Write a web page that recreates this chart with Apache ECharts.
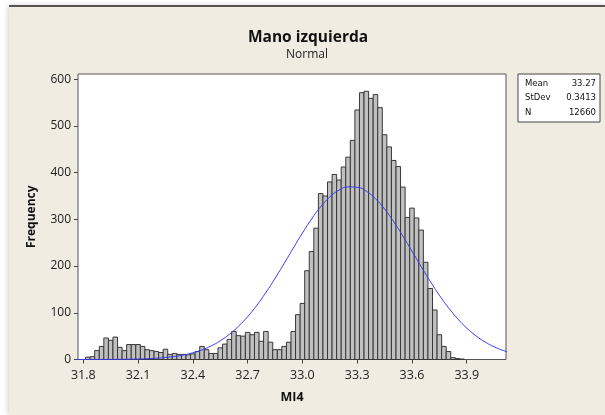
<!DOCTYPE html>
<html>
<head>
<meta charset="utf-8">
<script src="https://cdn.jsdelivr.net/npm/echarts@6/dist/echarts.min.js"></script>
<style>
html,body{margin:0;padding:0;background:#ffffff;}
#chart{width:605px;height:415px;}
</style>
</head>
<body>
<div id="chart"></div>
<script>
// ---- data ----
const binWidth = 0.025;
const binCenters = [
 31.825,31.85,31.875,31.9,31.925,31.95,31.975,32.0,32.025,32.05,32.075,32.1,32.125,32.15,32.175,32.2,32.225,32.25,
 32.275,32.3,32.325,32.35,32.375,32.4,32.425,32.45,32.475,32.5,32.525,32.55,32.575,32.6,32.625,32.65,32.675,32.7,
 32.725,32.75,32.775,32.8,32.825,32.85,32.875,32.9,32.925,32.95,32.975,33.0,33.025,33.05,33.075,33.1,33.125,33.15,
 33.175,33.2,33.225,33.25,33.275,33.3,33.325,33.35,33.375,33.4,33.425,33.45,33.475,33.5,33.525,33.55,33.575,33.6,
 33.625,33.65,33.675,33.7,33.725,33.75,33.775,33.8,33.825,33.85,33.875
];
const frequencies = [
 5,6,19,28,46,41,48,26,19,32,32,32,28,21,19,17,15,22,
 11,13,11,11,10,12,17,28,21,13,13,25,33,43,60,51,50,58,
 53,58,39,60,37,21,21,28,37,60,96,120,190,231,281,355,350,380,
 396,384,412,433,469,534,571,574,559,567,539,481,455,426,413,369,304,324,
 303,277,208,152,106,53,28,17,4,2,1
];
// fitted normal curve
const curveX = [
 31.75,31.8,31.85,31.9,31.95,32.0,32.05,32.1,32.15,32.2,32.25,32.3,32.35,32.4,32.45,32.5,32.55,32.6,32.65,32.7,
 32.75,32.8,32.85,32.9,32.95,33.0,33.05,33.1,33.15,33.2,33.25,33.3,33.35,33.4,33.45,33.5,33.55,33.6,33.65,33.7,
 33.75,33.8,33.85,33.9,33.95,34.0,34.05,34.1,34.15
];
const curveY = [
 0.02,0.04,0.06,0.12,0.21,0.36,0.62,1.04,1.69,2.71,4.25,6.52,9.78,14.4,20.6,29.0,40.0,53.9,71.1,91.7,
 115.9,143.4,173.5,205.6,238.4,270.6,300.6,326.8,347.8,362.3,369.4,368.6,360.0,344.1,322.0,294.8,264.3,231.8,199.1,167.3,
 137.6,110.8,87.3,67.3,50.8,37.6,27.2,19.2,13.3
];
const xTicks = [31.8,32.1,32.4,32.7,33.0,33.3,33.6,33.9];
const yTicks = [0,100,200,300,400,500,600];
const statLabels = ['Mean','StDev','N'];
const statValues = ['33.27','0.3413','12660'];
const titleText = 'Mano izquierda';
const subtitleText = 'Normal';
const xName = 'MI4';
const yName = 'Frequency';

// ---- chart ----
const chart = echarts.init(document.getElementById('chart'), null, {renderer:'canvas'});
const FONT = 'Open Sans';
const histData = binCenters.map((c,i)=>[c, frequencies[i]]);
const curveData = curveX.map((x,i)=>[x, curveY[i]]);

const statGraphics = [];
statLabels.forEach((lab,i)=>{
  statGraphics.push({type:'text', x: 525, y: 79 + i*14.5, style:{text:lab, font:'8.5px "DejaVu Sans"', fill:'#111'}});
  statGraphics.push({type:'text', x: 596, y: 79 + i*14.5, style:{text:statValues[i], font:'8.5px "DejaVu Sans"', fill:'#111', textAlign:'right'}});
});

const option = {
  animation:false,
  backgroundColor:'#ffffff',
  grid:{left:78, right:99, top:74, bottom:55.5, show:true, backgroundColor:'#ffffff', borderColor:'#555555', borderWidth:1, z:1},
  xAxis:{
    type:'value', min:31.771, max:34.115,
    name:xName, nameLocation:'middle', nameGap:31,
    nameTextStyle:{fontFamily:FONT, fontWeight:'bold', fontSize:12.5, color:'#111'},
    axisLine:{show:false},
    axisTick:{show:true, length:4, customValues:xTicks, lineStyle:{color:'#444'}},
    axisLabel:{customValues:xTicks, margin:9, fontFamily:FONT, fontSize:12.5, color:'#222', formatter:v=>v.toFixed(1)},
    splitLine:{show:false}
  },
  yAxis:{
    type:'value', min:0, max:611,
    name:yName, nameLocation:'middle', nameGap:40, nameRotate:90,
    nameTextStyle:{fontFamily:FONT, fontWeight:'bold', fontSize:12, color:'#111'},
    axisLine:{show:false},
    axisTick:{show:true, length:4, customValues:yTicks, lineStyle:{color:'#444'}},
    axisLabel:{customValues:yTicks, margin:7, fontFamily:FONT, fontSize:12, color:'#222'},
    splitLine:{show:false}
  },
  series:[
    {
      type:'custom', data:histData, z:2,
      renderItem:function(params, api){
        const x = api.value(0), y = api.value(1);
        const p0 = api.coord([x - binWidth/2, y]);
        const p1 = api.coord([x + binWidth/2, 0]);
        return {type:'rect', shape:{x:p0[0], y:p0[1], width:p1[0]-p0[0], height:p1[1]-p0[1]},
                style:{fill:'#c0c0c0', stroke:'#383838', lineWidth:1}};
      }
    },
    {
      type:'line', data:curveData, showSymbol:false, smooth:true, z:3, clip:true,
      lineStyle:{color:'#3a3af0', width:1}
    }
  ],
  graphic:[
    {type:'rect', z:-10, silent:true, shape:{x:9, y:6, width:596, height:409}, style:{fill:'#f0ece2', shadowBlur:6, shadowColor:'rgba(0,0,0,0.25)'}},
    {type:'line', z:-9, silent:true, shape:{x1:9, y1:6, x2:605, y2:6}, style:{stroke:'#222', lineWidth:1.5}},
    {type:'text', z:5, x:308, y:30, style:{text:titleText, font:'bold 15.5px "Open Sans"', fill:'#111', textAlign:'center'}},
    {type:'text', z:5, x:307, y:49, style:{text:subtitleText, font:'12px "Open Sans"', fill:'#222', textAlign:'center'}},
    {type:'rect', z:5, x:518, y:74, shape:{width:82, height:48}, style:{fill:'#ffffff', stroke:'#444', lineWidth:1}},
    ...statGraphics.map(g=>Object.assign({z:6}, g))
  ]
};
chart.setOption(option);
</script>
</body>
</html>
